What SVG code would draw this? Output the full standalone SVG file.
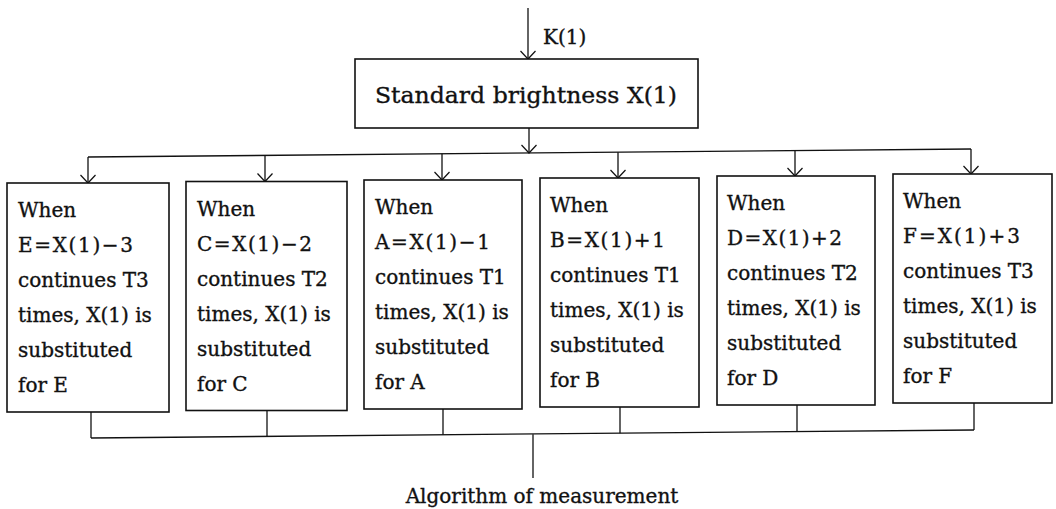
<svg xmlns="http://www.w3.org/2000/svg" width="1056" height="509" viewBox="0 0 1056 509">
<style>
.box{fill:#fff;stroke:#111;stroke-width:1.6}
.ln{fill:none;stroke:#111;stroke-width:1.3}
text{font-family:"DejaVu Serif","Liberation Serif",serif;fill:#111;stroke:#111;stroke-width:0.35}
.t{font-size:20px}
.f{font-size:20px}
</style>
<defs>
<marker id="ah" markerUnits="userSpaceOnUse" markerWidth="14" markerHeight="18" viewBox="-11 -9 12 18" refX="0" refY="0" orient="auto">
<path d="M-8,-7.5 L0,0 L-8,7.5" fill="none" stroke="#111" stroke-width="1.2"/>
</marker>
</defs>
<rect width="1056" height="509" fill="#fff"/>
<g id="connectors">
<line class="ln" x1="528" y1="8" x2="528" y2="59" marker-end="url(#ah)"/>
<line class="ln" x1="529" y1="128" x2="529" y2="153" marker-end="url(#ah)"/>
<line class="ln" x1="88" y1="157" x2="971" y2="149"/>
<line class="ln" x1="88" y1="157" x2="88" y2="183" marker-end="url(#ah)"/>
<line class="ln" x1="265" y1="155.4" x2="265" y2="181.5" marker-end="url(#ah)"/>
<line class="ln" x1="442" y1="153.8" x2="442" y2="180" marker-end="url(#ah)"/>
<line class="ln" x1="618" y1="152.2" x2="618" y2="178" marker-end="url(#ah)"/>
<line class="ln" x1="795" y1="150.6" x2="795" y2="176" marker-end="url(#ah)"/>
<line class="ln" x1="971" y1="149" x2="971" y2="174" marker-end="url(#ah)"/>
<line class="ln" x1="91" y1="412" x2="91" y2="438"/>
<line class="ln" x1="267" y1="410.5" x2="267" y2="436.4"/>
<line class="ln" x1="443" y1="409" x2="443" y2="434.8"/>
<line class="ln" x1="620" y1="407" x2="620" y2="433.2"/>
<line class="ln" x1="797" y1="405" x2="797" y2="431.6"/>
<line class="ln" x1="974" y1="403" x2="974" y2="430"/>
<line class="ln" x1="91" y1="438" x2="974" y2="430"/>
<line class="ln" x1="533" y1="434.2" x2="533" y2="478"/>
</g>
<g id="input-label">
<text x="543" y="44" style="font-size:20px">K(1)</text>
</g>
<g id="standard">
<rect class="box" x="355" y="59" width="343" height="69"/>
<text x="375" y="103" style="font-size:22px" textLength="302" lengthAdjust="spacingAndGlyphs">Standard brightness  X(1)</text>
</g>
<g id="boxE">
<rect class="box" x="7" y="183" width="162" height="229"/>
<text class="t" x="18" y="217">When</text>
<text class="f" x="18" y="252" textLength="115">E=X(1)−3</text>
<text class="t" x="18" y="287">continues T3</text>
<text class="t" x="18" y="322">times, X(1) is</text>
<text class="t" x="18" y="357">substituted</text>
<text class="t" x="18" y="392">for E</text>
</g>
<g id="boxC">
<rect class="box" x="186" y="181.5" width="161" height="229"/>
<text class="t" x="197" y="215.5">When</text>
<text class="f" x="197" y="250.5" textLength="115">C=X(1)−2</text>
<text class="t" x="197" y="285.5">continues T2</text>
<text class="t" x="197" y="320.5">times, X(1) is</text>
<text class="t" x="197" y="355.5">substituted</text>
<text class="t" x="197" y="390.5">for C</text>
</g>
<g id="boxA">
<rect class="box" x="364" y="180" width="158" height="229"/>
<text class="t" x="375" y="214">When</text>
<text class="f" x="375" y="249" textLength="115">A=X(1)−1</text>
<text class="t" x="375" y="284">continues T1</text>
<text class="t" x="375" y="319">times, X(1) is</text>
<text class="t" x="375" y="354">substituted</text>
<text class="t" x="375" y="389">for A</text>
</g>
<g id="boxB">
<rect class="box" x="540" y="178" width="159" height="229"/>
<text class="t" x="550" y="212">When</text>
<text class="f" x="550" y="247" textLength="115">B=X(1)+1</text>
<text class="t" x="550" y="282">continues T1</text>
<text class="t" x="550" y="317">times, X(1) is</text>
<text class="t" x="550" y="352">substituted</text>
<text class="t" x="550" y="387">for B</text>
</g>
<g id="boxD">
<rect class="box" x="717" y="176" width="158" height="229"/>
<text class="t" x="727" y="210">When</text>
<text class="f" x="727" y="245" textLength="115">D=X(1)+2</text>
<text class="t" x="727" y="280">continues T2</text>
<text class="t" x="727" y="315">times, X(1) is</text>
<text class="t" x="727" y="350">substituted</text>
<text class="t" x="727" y="385">for D</text>
</g>
<g id="boxF">
<rect class="box" x="893" y="174" width="159" height="229"/>
<text class="t" x="903" y="208">When</text>
<text class="f" x="903" y="243" textLength="117">F=X(1)+3</text>
<text class="t" x="903" y="278">continues T3</text>
<text class="t" x="903" y="313">times, X(1) is</text>
<text class="t" x="903" y="348">substituted</text>
<text class="t" x="903" y="383">for F</text>
</g>
<g id="output-label">
<text x="542" y="503" style="font-size:20px" text-anchor="middle">Algorithm of measurement</text>
</g>
</svg>
